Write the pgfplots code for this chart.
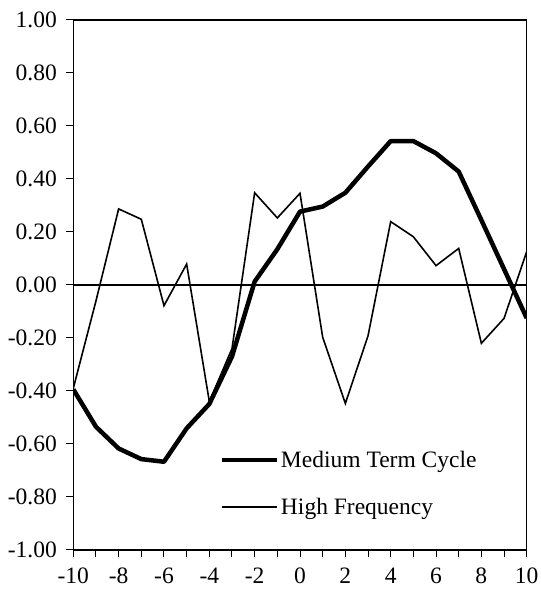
\documentclass[border=0pt]{standalone}
\usepackage{pgfplots}
\pgfplotsset{compat=1.18}
\usepackage{fontspec}
\setmainfont{Liberation Serif}
\begin{document}
\begin{tikzpicture}
\begin{axis}[
  at={(0,0)}, anchor=south west,
  scale only axis,
  width=453.4pt, height=530pt,
  xmin=-10, xmax=10, ymin=-1, ymax=1,
  axis line style={line width=1.4pt},
  xtick={-10,-8,...,10},
  minor xtick={-9,-7,...,9},
  ytick={-1,-0.8,...,1.01},
  tick align=outside,
  xtick pos=bottom, ytick pos=left,
  major tick length=7pt, minor tick length=7pt,
  tick style={line width=1pt, black},
  minor tick style={line width=1pt, black},
  /pgf/number format/assume math mode=true,
  ticklabel style={font=\fontsize{23.5}{27}\selectfont},
  yticklabel style={/pgf/number format/fixed, /pgf/number format/fixed zerofill, /pgf/number format/precision=2, xshift=-6pt},
  xticklabel style={yshift=-7pt},
  legend style={draw=none, fill=none, font=\fontsize{23.5}{27}\selectfont,
    at={(rel axis cs:0.322,0.1255)}, anchor=west, row sep=25pt,
    inner sep=0pt},
  legend cell align=left,
  legend image code/.code={\draw[#1] (0pt,0pt) -- (55pt,0pt);},
]
\addplot[black, line width=4.5pt, line join=round] coordinates {
(-10,-0.394) (-9,-0.535) (-8,-0.617) (-7,-0.657) (-6,-0.667) (-5,-0.541)
(-4,-0.449) (-3,-0.27) (-2,0.013) (-1,0.135) (0,0.277) (1,0.296)
(2,0.348) (3,0.447) (4,0.543) (5,0.543) (6,0.497) (7,0.428)
(8,0.245) (9,0.06) (10,-0.125)
};
\addlegendentry{Medium Term Cycle}
\addplot[black, line width=1.6pt, line join=miter] coordinates {
(-10,-0.39) (-9,-0.06) (-8,0.287) (-7,0.248) (-6,-0.078) (-5,0.079)
(-4,-0.44) (-3,-0.24) (-2,0.348) (-1,0.253) (0,0.346) (1,-0.197)
(2,-0.447) (3,-0.192) (4,0.239) (5,0.182) (6,0.073) (7,0.138)
(8,-0.22) (9,-0.126) (10,0.126)
};
\addlegendentry{High Frequency}
\draw[black, line width=1.2pt] (axis cs:-10,0) -- (axis cs:10,0);
\end{axis}
\pgfresetboundingbox
\path[use as bounding box] (-73.3pt,-43pt) rectangle (466.7pt,550pt);
\end{tikzpicture}
\end{document}
